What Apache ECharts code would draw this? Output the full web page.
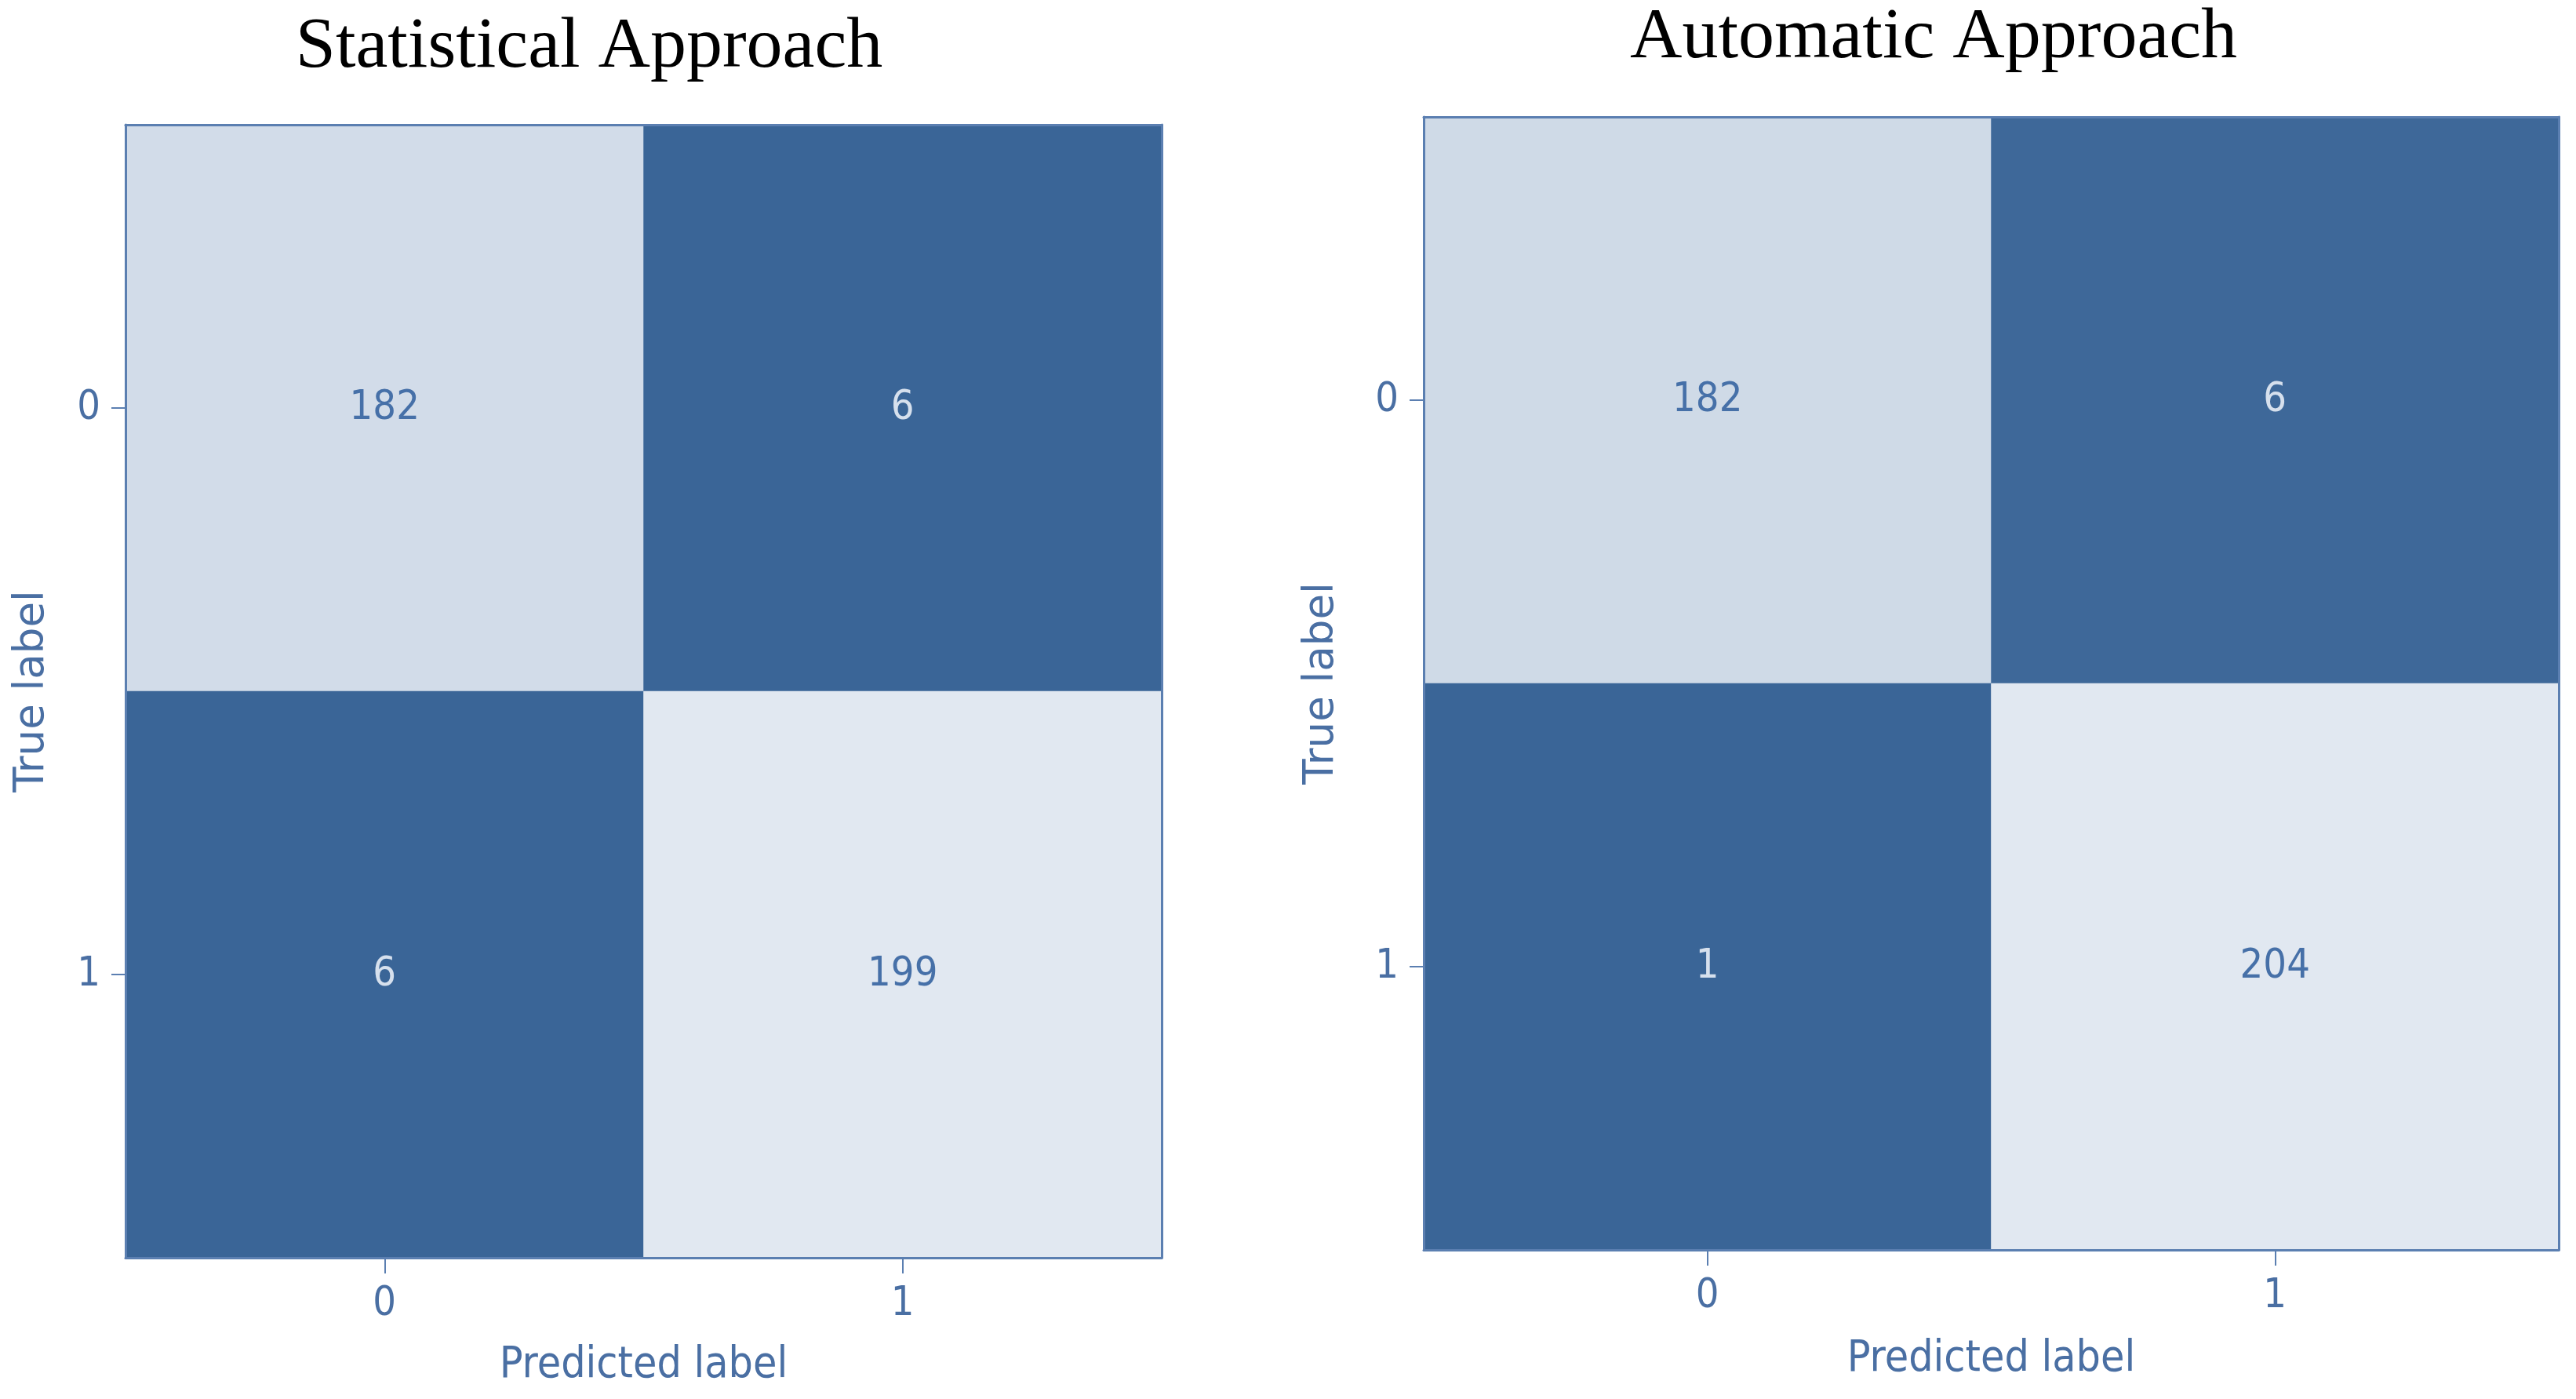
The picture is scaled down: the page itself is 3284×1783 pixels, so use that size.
<!DOCTYPE html>
<html>
<head>
<meta charset="utf-8">
<script src="https://cdn.jsdelivr.net/npm/echarts@6/dist/echarts.min.js"></script>
<style>
html,body{margin:0;padding:0;background:#fff;}
#chart{width:3284px;height:1783px;}
</style>
</head>
<body>
<div id="chart"></div>
<script>
// ---- data ----
var titles = ['Statistical Approach', 'Automatic Approach'];
var predictedLabels = ['0', '1'];
var trueLabels = ['0', '1'];
var statRow0 = [182, 6];
var statRow1 = [6, 199];
var autoRow0 = [182, 6];
var autoRow1 = [1, 204];
var xAxisName = 'Predicted label';
var yAxisName = 'True label';

// ---- build ----
var AX = '#4a6fa3';
var FRAME = '#5b7fb1';
var DARK = '#3a6597';
var LIGHT = '#e1e8f1';
var TXT_LIGHT = '#d6e0ed';
var TXT_DARK = '#4670a8';
var NUMFONT = '"DejaVu Sans Condensed","DejaVu Sans",sans-serif';
var VFONT = '"DejaVu Sans",sans-serif';

function build(rows) {
  var all = rows[0].concat(rows[1]);
  var mn = Math.min.apply(null, all), mx = Math.max.apply(null, all);
  var mid = (mn + mx) / 2;
  var data = [];
  rows.forEach(function (row, yi) {
    row.forEach(function (v, xi) {
      data.push({ value: [xi, yi, v], label: { color: v < mid ? TXT_LIGHT : TXT_DARK } });
    });
  });
  return { data: data, min: mn, max: mx };
}
var sets = [build([statRow0, statRow1]), build([autoRow0, autoRow1])];

var grids = [
  { left: 160, top: 159, width: 1321, height: 1444 },
  { left: 1815, top: 149, width: 1447, height: 1444 }
];
var nameGapX = [110, 112];
var nameGapY = [92, 103];
var titleX = [746, 2460];
var titleTop = [10, -2];

var option = {
  backgroundColor: '#fff',
  animation: false,
  title: [],
  grid: grids,
  xAxis: [],
  yAxis: [],
  visualMap: [],
  series: []
};

for (var i = 0; i < 2; i++) {
  option.title.push({
    text: titles[i], left: titleX[i], top: titleTop[i], textAlign: 'center',
    textStyle: { fontFamily: '"Liberation Serif", serif', fontWeight: 'normal', fontSize: 92, color: '#000' }
  });
  option.xAxis.push({
    type: 'category', gridIndex: i, data: predictedLabels, position: 'bottom',
    name: xAxisName, nameLocation: 'middle', nameGap: nameGapX[i],
    nameTextStyle: { color: AX, fontSize: 55, fontFamily: NUMFONT },
    axisLine: { show: true, lineStyle: { color: FRAME, width: 3 } },
    axisTick: { show: true, alignWithLabel: true, length: 20, lineStyle: { color: FRAME, width: 2 } },
    axisLabel: { color: AX, fontSize: 52, margin: 33, fontFamily: NUMFONT },
    splitLine: { show: false }, splitArea: { show: false }
  });
  option.xAxis.push({
    type: 'category', gridIndex: i, data: predictedLabels, position: 'top',
    axisLine: { show: true, lineStyle: { color: FRAME, width: 3 } },
    axisTick: { show: false }, axisLabel: { show: false }, splitLine: { show: false }
  });
  option.yAxis.push({
    type: 'category', gridIndex: i, data: trueLabels, inverse: true, position: 'left',
    name: yAxisName, nameLocation: 'middle', nameGap: nameGapY[i], nameRotate: 90,
    nameTextStyle: { color: AX, fontSize: 53, fontFamily: VFONT },
    axisLine: { show: true, lineStyle: { color: FRAME, width: 3 } },
    axisTick: { show: true, alignWithLabel: true, length: 18, lineStyle: { color: FRAME, width: 2 } },
    axisLabel: { color: AX, fontSize: 52, margin: 32, fontFamily: NUMFONT },
    splitLine: { show: false }, splitArea: { show: false }
  });
  option.yAxis.push({
    type: 'category', gridIndex: i, data: trueLabels, inverse: true, position: 'right',
    axisLine: { show: true, lineStyle: { color: FRAME, width: 3 } },
    axisTick: { show: false }, axisLabel: { show: false }, splitLine: { show: false }
  });
  option.visualMap.push({
    type: 'continuous', show: false, seriesIndex: i,
    min: sets[i].min, max: sets[i].max, dimension: 2,
    inRange: { color: [DARK, LIGHT] }
  });
  option.series.push({
    type: 'heatmap', xAxisIndex: 2 * i, yAxisIndex: 2 * i,
    data: sets[i].data,
    itemStyle: { borderWidth: 0 },
    label: { show: true, fontSize: 52, fontFamily: NUMFONT },
    emphasis: { disabled: true }
  });
}
// frame axes must be drawn above the cells
option.xAxis.forEach(function (a) { a.z = 10; });
option.yAxis.forEach(function (a) { a.z = 10; });

var chart = echarts.init(document.getElementById('chart'), null, { renderer: 'canvas' });
chart.setOption(option);
</script>
</body>
</html>
